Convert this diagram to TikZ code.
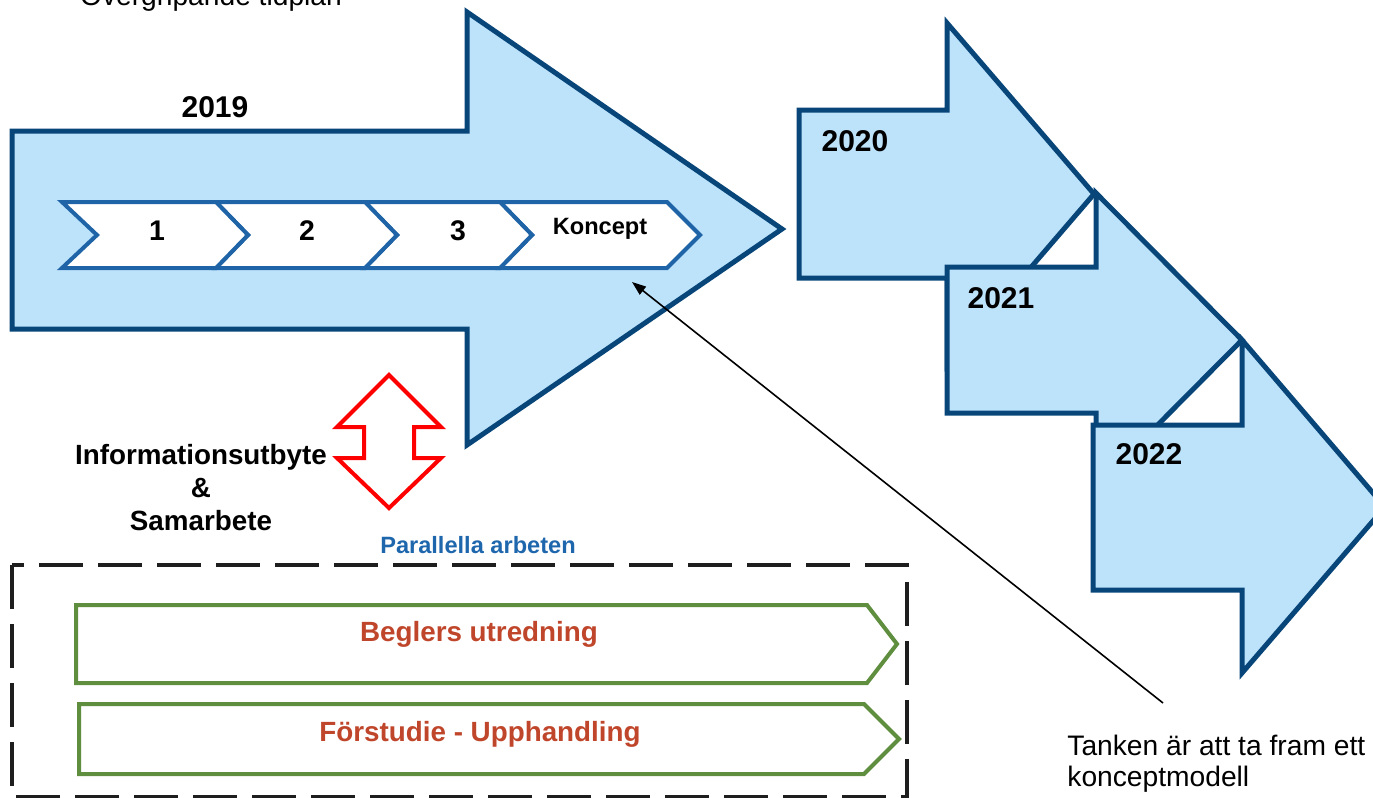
\documentclass[tikz,border=0pt]{standalone}
\usepackage{fontspec}
\setmainfont{Liberation Sans}
\usetikzlibrary{arrows.meta}
\definecolor{arrowdark}{RGB}{8,70,122}
\definecolor{arrowfill}{RGB}{189,227,251}
\definecolor{chevblue}{RGB}{31,100,166}
\definecolor{redarrow}{RGB}{255,0,0}
\definecolor{greenarrow}{RGB}{94,142,62}
\definecolor{textred}{RGB}{192,70,43}
\definecolor{parblue}{RGB}{31,103,173}
\definecolor{dashgray}{RGB}{30,30,30}
\tikzset{
  bigarrow/.style={draw=arrowdark, fill=arrowfill, line width=2.5pt, miter limit=20},
  chevbox/.style={draw=chevblue, fill=white, line width=2pt},
  greenbox/.style={draw=greenarrow, fill=white, line width=2pt},
  yearlabel/.style={font=\bfseries\fontsize{15}{18}\selectfont, inner sep=0pt},
  chevlabel/.style={font=\bfseries\fontsize{14.2}{16}\selectfont, inner sep=0pt},
  worklabel/.style={font=\bfseries\fontsize{13.9}{16}\selectfont, text=textred, inner sep=0pt},
  plainlabel/.style={font=\fontsize{14.1}{15.5}\selectfont, inner sep=0pt},
}
\begin{document}
\begin{tikzpicture}[x=0.5pt,y=-0.5pt]
\useasboundingbox (0,0) rectangle (1373,798);

% title
\node[plainlabel, anchor=base] (title) at (211,5) {Övergripande tidplan};

% 2019 arrow
\path[bigarrow] (12,131) -- (467,131) -- (467,12) -- (782,229) -- (467,445) -- (467,329) -- (12,329) -- cycle;
\node[yearlabel] (y2019) at (215,107) {2019};

% chevrons
\path[chevbox] (500,202) -- (667,202) -- (700,235) -- (667,268) -- (500,268) -- (532,235) -- cycle;
\path[chevbox] (365,202) -- (500,202) -- (532,235) -- (500,268) -- (365,268) -- (397,235) -- cycle;
\path[chevbox] (216,202) -- (365,202) -- (397,235) -- (365,268) -- (216,268) -- (248,235) -- cycle;
\path[chevbox] (62,202) -- (216,202) -- (248,235) -- (216,268) -- (62,268) -- (97,235) -- cycle;
\node[chevlabel] (c1) at (157,231) {1};
\node[chevlabel] (c2) at (307,231) {2};
\node[chevlabel] (c3) at (458,231) {3};
\node[font=\bfseries\fontsize{11.8}{14}\selectfont, inner sep=0pt] (c4) at (600,229) {Koncept};

% 2020, 2021, 2022 arrows
\path[bigarrow] (799,110) -- (947,110) -- (947,23) -- (1094,194) -- (947,365) -- (947,278) -- (799,278) -- cycle;
\path[bigarrow] (947,267) -- (1096,267) -- (1096,193) -- (1242,340) -- (1096,487) -- (1096,413) -- (947,413) -- cycle;
\path[bigarrow] (1093,425) -- (1242,425) -- (1242,340) -- (1385,507) -- (1242,673) -- (1242,590) -- (1093,590) -- cycle;
\node[yearlabel] (y2020) at (855,141) {2020};
\node[yearlabel] (y2021) at (1001,298) {2021};
\node[yearlabel] (y2022) at (1149,454) {2022};

% red double arrow
\path[draw=redarrow, fill=white, line width=2pt] (389,375) -- (441,427) -- (414,427) -- (414,458) -- (441,458) -- (389,508) -- (337,458) -- (364,458) -- (364,427) -- (337,427) -- cycle;
\node[font=\bfseries\fontsize{13.9}{16.5}\selectfont, align=center, inner sep=0pt] (info) at (201,488) {Informationsutbyte\\\&\\Samarbete};

% parallel work
\node[font=\bfseries\fontsize{11.8}{14}\selectfont, text=parblue, inner sep=0pt] (par) at (478,545) {Parallella arbeten};
\draw[dashgray, line width=2pt, dash pattern=on 22pt off 7.5pt] (12,565) rectangle (907,797);
\path[greenbox] (76,605) -- (867,605) -- (897,644) -- (867,683) -- (76,683) -- cycle;
\path[greenbox] (79,704) -- (864,704) -- (899,739) -- (864,774) -- (79,774) -- cycle;
\node[worklabel] (beg) at (479,634) {Beglers utredning};
\node[worklabel] (for) at (480,734) {Förstudie - Upphandling};

% annotation
\coordinate (kp) at (632,282);
\coordinate (annstart) at (1163,703);
\node[plainlabel, anchor=west, align=left] (ann) at (1067,764) {Tanken är att ta fram ett\\konceptmodell};
\draw[black, line width=0.8pt, -{Triangle[length=7pt,width=5pt]}] (annstart) -- (kp);
\end{tikzpicture}
\end{document}
